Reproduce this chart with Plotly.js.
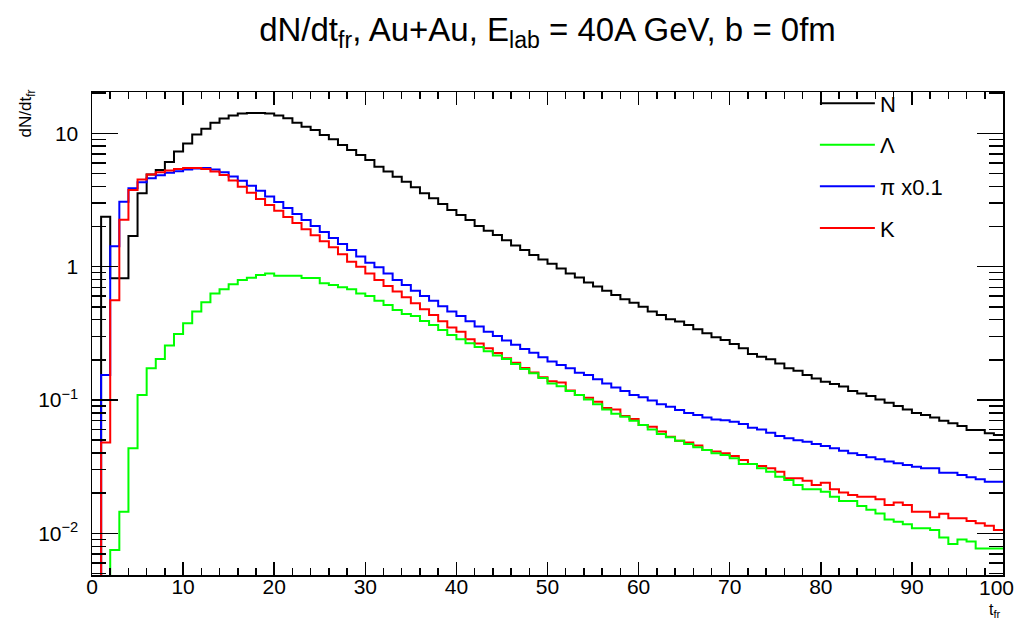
<!DOCTYPE html>
<html>
<head>
<meta charset="utf-8">
<script src="https://cdn.plot.ly/plotly-3.0.1.min.js"></script>
<style>html,body{margin:0;padding:0;background:#fff;}#chart{width:1018px;height:621px;}</style>
</head>
<body>
<div id="chart"></div>
<script>
// bin index 0..99 (bin width 1 in t_fr); 0 means empty bin
const nBins = 100;
const N = [0,2.37,0.82,0.82,1.7,3.55,4.9,5.3,6.1,7.3,
  8.4,9.8,10.8,12.0,12.9,13.6,14.1,14.2,14.2,14.1,
  13.6,12.97,12.0,11.2,10.6,9.72,9.03,8.18,7.5,6.88,
  6.31,5.62,5.16,4.73,4.34,3.94,3.55,3.26,2.95,2.66,
  2.44,2.24,2.02,1.86,1.73,1.58,1.44,1.33,1.22,1.13,
  1.05,0.97,0.89,0.83,0.76,0.71,0.66,0.613,0.569,0.537,
  0.50,0.46,0.434,0.403,0.387,0.365,0.339,0.316,0.295,0.282,
  0.263,0.244,0.221,0.211,0.202,0.188,0.173,0.166,0.154,0.145,
  0.137,0.132,0.126,0.117,0.112,0.107,0.101,0.0955,0.090,0.085,
  0.080,0.077,0.074,0.070,0.0668,0.0638,0.0596,0.0596,0.0562,0.0546];
const Lambda = [0,0,0.0075,0.0145,0.0434,0.109,0.173,0.203,0.256,0.313,
  0.376,0.46,0.54,0.63,0.676,0.738,0.795,0.827,0.866,0.89,
  0.856,0.856,0.856,0.822,0.822,0.75,0.729,0.70,0.676,0.63,
  0.603,0.556,0.516,0.473,0.442,0.427,0.391,0.365,0.335,0.307,
  0.285,0.266,0.25,0.232,0.216,0.203,0.186,0.171,0.159,0.146,
  0.133,0.127,0.117,0.109,0.101,0.093,0.085,0.079,0.075,0.070,
  0.065,0.060,0.0556,0.0525,0.0495,0.0468,0.0442,0.0422,0.0398,0.0387,
  0.0365,0.0331,0.0331,0.0307,0.029,0.0266,0.0251,0.023,0.0214,0.0214,
  0.0205,0.0188,0.0175,0.0175,0.016,0.015,0.0141,0.0127,0.0122,0.0117,
  0.0109,0.0109,0.0106,0.0093,0.0083,0.009,0.0087,0.0077,0.0077,0.0077];
const PiX01 = [0,0.154,1.42,3.07,3.87,4.3,4.6,4.85,5.05,5.2,
  5.35,5.45,5.5,5.35,5.1,4.75,4.4,4.05,3.7,3.35,
  3.05,2.75,2.48,2.24,2.02,1.82,1.64,1.48,1.33,1.19,
  1.07,0.99,0.89,0.795,0.729,0.66,0.603,0.556,0.505,0.46,
  0.427,0.39,0.355,0.325,0.302,0.279,0.259,0.241,0.226,0.209,
  0.194,0.183,0.173,0.160,0.154,0.143,0.133,0.124,0.117,0.109,
  0.105,0.099,0.093,0.089,0.084,0.080,0.077,0.074,0.0715,0.0705,
  0.0688,0.066,0.062,0.060,0.0569,0.0537,0.0516,0.050,0.0487,0.0468,
  0.0452,0.0434,0.0417,0.0398,0.0387,0.0372,0.0359,0.0345,0.0335,0.0326,
  0.0316,0.0307,0.0307,0.0285,0.0285,0.0274,0.0263,0.0254,0.0244,0.0244];
const K = [0,0.048,0.56,2.25,3.76,4.5,4.9,5.1,5.25,5.4,
  5.5,5.5,5.39,5.16,4.87,4.42,3.98,3.58,3.22,2.9,
  2.62,2.36,2.12,1.91,1.72,1.55,1.4,1.24,1.09,1.0,
  0.89,0.795,0.716,0.65,0.589,0.531,0.479,0.434,0.39,0.35,
  0.325,0.285,0.265,0.244,0.225,0.206,0.19,0.174,0.161,0.148,
  0.138,0.135,0.118,0.109,0.104,0.097,0.087,0.085,0.076,0.072,
  0.065,0.063,0.058,0.053,0.0495,0.048,0.0455,0.0422,0.041,0.0398,
  0.038,0.0355,0.0331,0.032,0.0307,0.029,0.0259,0.0259,0.0248,0.023,
  0.024,0.0214,0.0202,0.0194,0.0188,0.0188,0.018,0.0163,0.017,0.0163,
  0.0145,0.0145,0.0132,0.014,0.013,0.013,0.0124,0.0119,0.0114,0.0106];

const seriesNames = ['N', '\u039B', '\u03C0 x0.1', 'K'];
const seriesColors = ['#000000', '#00ff00', '#0000ff', '#ff0000'];
const xTickVals = [0,10,20,30,40,50,60,70,80,90,100];
const yTickVals = [0.01, 0.1, 1, 10];
const yTickText = ['10<sup>\u22122</sup>', '10<sup>\u22121</sup>', '1', '10'];
const xLastTick = xTickVals[xTickVals.length - 1];

// histogram outline: left bin edges plus closing right edge
function stepX() { const e = []; for (let i = 0; i <= nBins; i++) e.push(i); return e; }
function stepY(v) { const s = v.map(d => d > 0 ? d : 1e-5); s.push(s[s.length - 1]); return s; }

function trace(vals, idx, rank) {
  return { x: stepX(), y: stepY(vals), type: 'scatter', mode: 'lines',
    line: { shape: 'hv', color: seriesColors[idx], width: 2 },
    name: seriesNames[idx], legendrank: rank, legendgroup: 'g' + idx,
    hoverinfo: 'skip', cliponaxis: true };
}
// drawing order: N, pi, K, Lambda (Lambda drawn on top), legend order N, Lambda, pi, K
const data = [ trace(N, 0, 1), trace(PiX01, 2, 3), trace(K, 3, 4), trace(Lambda, 1, 2) ];

const font = 'Liberation Sans, Arial, Helvetica, sans-serif';
const layout = {
  width: 1018, height: 621,
  margin: { l: 92, r: 15, t: 92, b: 46, pad: 0 },
  paper_bgcolor: '#ffffff', plot_bgcolor: '#ffffff',
  font: { family: font, color: '#000000' },
  title: { text: 'dN/dt<sub>fr</sub>, Au+Au, E<sub>lab</sub> = 40A GeV, b = 0fm',
    font: { family: font, size: 33, color: '#000' }, x: 0.5, xref: 'paper', xanchor: 'center',
    y: 0.952, yref: 'container', yanchor: 'middle' },
  showlegend: true,
  legend: { x: 0.7935, y: 1.02, xanchor: 'left', yanchor: 'top', bgcolor: 'rgba(0,0,0,0)',
    borderwidth: 0, font: { family: font, size: 22, color: '#000' }, tracegroupgap: 10,
    traceorder: 'grouped', itemwidth: 55 },
  xaxis: { range: [0, 100], showgrid: false, zeroline: false, showline: true, linecolor: '#000', linewidth: 1.5,
    mirror: 'allticks', ticks: 'inside', ticklen: 13, tickwidth: 1.5, tickcolor: '#000',
    tickmode: 'array', tickvals: xTickVals,
    ticktext: xTickVals.map(v => v === xLastTick ? '' : String(v)),
    tickfont: { family: font, size: 21 }, ticklabelstandoff: -8,
    minor: { dtick: 2, ticks: 'inside', ticklen: 7, tickwidth: 1.5, tickcolor: '#000', showgrid: false } },
  yaxis: { type: 'log', range: [Math.log10(0.00487), Math.log10(20.4)], showgrid: false, zeroline: false,
    showline: true, linecolor: '#000', linewidth: 1.5, mirror: 'allticks',
    ticks: 'inside', ticklen: 26, tickwidth: 1.5, tickcolor: '#000',
    tickmode: 'array', tickvals: yTickVals, ticktext: yTickText,
    tickfont: { family: font, size: 21 }, ticklabelstandoff: 8,
    minor: { dtick: 'D1', ticks: 'inside', ticklen: 14, tickwidth: 1.5, tickcolor: '#000', showgrid: false } },
  annotations: [
    { text: String(xLastTick), xref: 'paper', yref: 'paper', x: 1.0143, y: 0.003,
      xanchor: 'right', yanchor: 'top', showarrow: false,
      font: { family: font, size: 21, color: '#000' } },
    { text: 'dN/dt<sub>fr</sub>', textangle: -90, xref: 'paper', yref: 'paper',
      x: -0.071, y: 1.01, xanchor: 'center', yanchor: 'top', showarrow: false,
      font: { family: font, size: 17, color: '#000' } },
    { text: 't<sub>fr</sub>', xref: 'paper', yref: 'paper', x: 1.0, y: -0.05,
      xanchor: 'right', yanchor: 'top', showarrow: false,
      font: { family: font, size: 16, color: '#000' } }
  ]
};
Plotly.newPlot('chart', data, layout, { staticPlot: true, displayModeBar: false });
</script>
</body>
</html>
